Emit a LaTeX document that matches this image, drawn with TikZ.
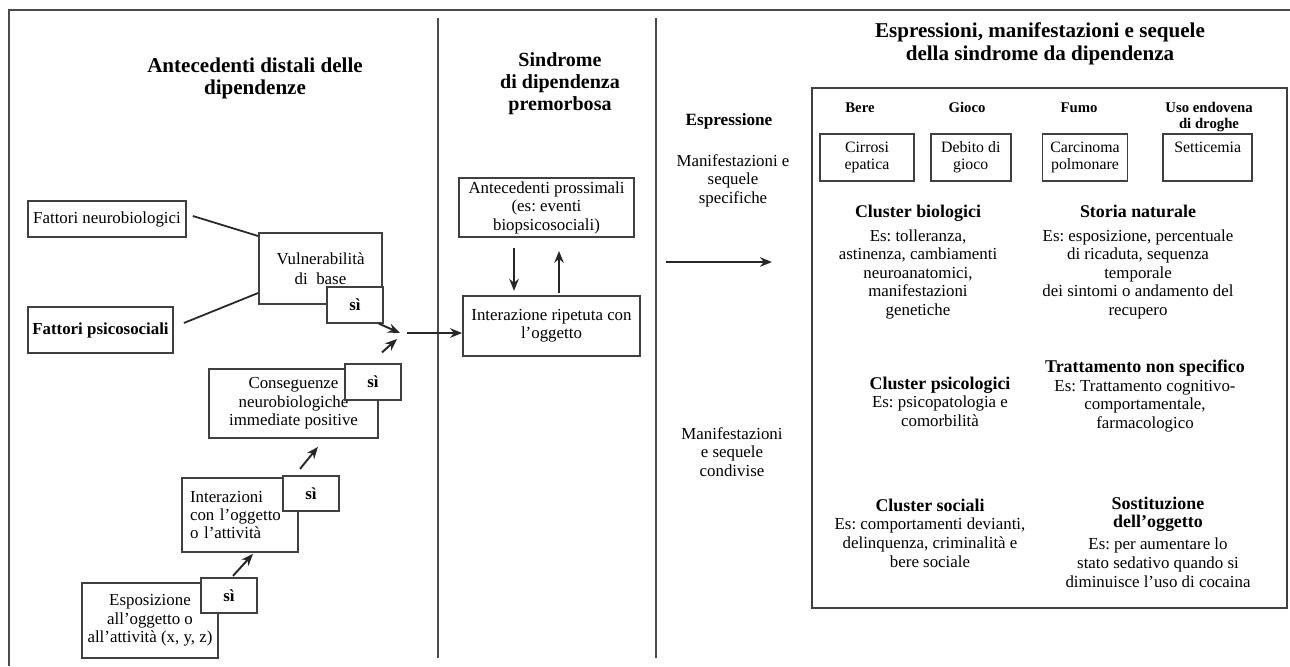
\documentclass[tikz,border=0pt]{standalone}
\usepackage{fontspec}
\setmainfont{Liberation Serif}
\usepackage{tikz}
\usetikzlibrary{positioning,arrows.meta}
\frenchspacing

\newcommand{\clhead}[1]{{\fontsize{10.2}{11}\selectfont\bfseries #1}}

\begin{document}
\begin{tikzpicture}[
    x=0.02cm, y=-0.02cm,
    frame/.style={draw=black!70, line width=1pt},
    box/.style={draw=black!75, fill=white, line width=1pt, inner sep=0pt, align=center, font=\fontsize{9.6}{10.5}\selectfont},
    sibox/.style={box, minimum width=1.12cm, minimum height=0.71cm, font=\fontsize{9.6}{10.5}\selectfont\bfseries},
    smallbox/.style={box, minimum height=0.94cm, font=\fontsize{9}{9.8}\selectfont},
    title/.style={align=center, inner sep=0pt, font=\fontsize{12}{12.8}\selectfont\bfseries},
    txt/.style={align=center, inner sep=0pt, font=\fontsize{9.6}{10.6}\selectfont},
    lab/.style={align=center, inner sep=0pt, anchor=north, font=\fontsize{8.4}{9.2}\selectfont\bfseries},
    link/.style={draw=black!85, line width=1pt},
    arr/.style={->, >={Stealth[length=0.24cm, width=0.19cm]}, draw=black!85, line width=1.1pt}
    ]
        \useasboundingbox (0,0) rectangle (1290,666);

        %Frame
        \draw[frame] (1290,10) -- (9,10) -- (9,666);
        \draw[frame] (438,18) -- (438,658);
        \draw[frame] (656,18) -- (656,658);

        %Titles
        \node[title] (tleft) at (255,78.5) {Antecedenti distali delle\\dipendenze};
        \node[title, font=\fontsize{11.4}{12.6}\selectfont\bfseries]
            (tmid) at (560,83.5) {Sindrome\\di dipendenza\\premorbosa};
        \node[title] (tright) at (1040,44) {Espressioni, manifestazioni e sequele\\della sindrome da dipendenza};

        %Nodes
        \node[box, minimum width=3.16cm, minimum height=0.72cm]
            (fneuro) at (107,219) {Fattori neurobiologici};
        \node[box, minimum width=2.9cm, minimum height=0.92cm, font=\fontsize{9.6}{10.5}\selectfont\bfseries]
            (fpsico) at (100.5,330) {Fattori psicosociali};
        \node[box, minimum width=2.46cm, minimum height=1.42cm]
            (vuln) at (320.5,268.5) {Vulnerabilità\\[1pt]di\ \ base};
        \node[sibox] (vsi) at (355,305) {sì};
        \node[box, minimum width=3.38cm, minimum height=1.38cm]
            (cons) at (293.5,403.5) {Conseguenze\\neurobiologiche\\immediate positive};
        \node[sibox] (csi) at (373,382) {sì};
        \node[box, minimum width=2.32cm, minimum height=1.48cm, align=left, text width=2.0cm, inner xsep=0.16cm]
            (inter) at (240,515) {Interazioni\\con l’oggetto\\o l’attività};
        \node[sibox] (isi) at (311,493.5) {sì};
        \node[box, minimum width=2.72cm, minimum height=1.5cm]
            (espo) at (150,620.5) {Esposizione\\all’oggetto o\\all’attività (x, y, z)};
        \node[sibox] (esi) at (229,595.5) {sì};
        \coordinate (hub) at (404,333);

        \node[box, minimum width=3.5cm, minimum height=1.18cm]
            (prox) at (546.5,207.5) {Antecedenti prossimali\\(es: eventi\\biopsicosociali)};
        \node[box, minimum width=3.54cm, minimum height=1.2cm]
            (rip) [below=1.14cm of prox, xshift=0.1cm] {Interazione ripetuta con\\l’oggetto};

        \node[txt, font=\fontsize{9.8}{10.6}\selectfont\bfseries] (espr) at (729,121) {Espressione};
        \node[txt] (mspec) at (733,180.5) {Manifestazioni e\\sequele\\specifiche};
        \node[txt] (mcond) at (732,452) {Manifestazioni\\e sequele\\condivise};
        \coordinate (espA) at (666,262);
        \coordinate (espB) at (772,262);

        \node[box, minimum width=9.5cm, minimum height=10.4cm] (panel) at (1049.5,348) {};
        \node[smallbox, minimum width=1.88cm]
            (cirrosi) at (867,157.5) {Cirrosi\\epatica};
        \node[smallbox, minimum width=1.6cm]
            (debito) [right=0.3cm of cirrosi] {Debito di\\gioco};
        \node[smallbox, minimum width=1.7cm]
            (carcinoma) [right=0.6cm of debito] {Carcinoma\\polmonare};
        \node[smallbox, minimum width=1.78cm]
            (setticemia) [right=0.68cm of carcinoma] {Setticemia\\\phantom{g}};
        \node[lab] (bere) at (860,102) {Bere};
        \node[lab] (gioco) at (967,102) {Gioco};
        \node[lab] (fumo) at (1079,102) {Fumo};
        \node[lab] (uso) at (1209,102) {Uso endovena\\di droghe};

        \node[txt] (bio) at (918,262) {\clhead{Cluster biologici}\\[3pt]Es: tolleranza,\\astinenza, cambiamenti\\neuroanatomici,\\manifestazioni\\genetiche};
        \node[txt] (storia) at (1138,262) {\clhead{Storia naturale}\\[3pt]Es: esposizione, percentuale\\di ricaduta, sequenza\\temporale\\dei sintomi o andamento del\\recupero};
        \node[txt] (psico) at (940,401.5) {\clhead{Cluster psicologici}\\Es: psicopatologia e\\comorbilità};
        \node[txt] (tratt) at (1145,396) {\clhead{Trattamento non specifico}\\Es: Trattamento cognitivo-\\comportamentale,\\farmacologico};
        \node[txt] (sociali) at (930,533) {\clhead{Cluster sociali}\\Es: comportamenti devianti,\\delinquenza, criminalità e\\bere sociale};
        \node[txt] (sostit) at (1158,542) {\clhead{Sostituzione}\\\clhead{dell’oggetto}\\[2pt]Es: per aumentare lo\\stato sedativo quando si\\diminuisce l’uso di cocaina};

        %Lines
        \draw[link] ([xshift=0.12cm, yshift=0.06cm]fneuro.east) -- ([yshift=0.65cm]vuln.west);
        \draw[link] ([xshift=0.2cm, yshift=0.14cm]fpsico.east) -- ([yshift=-0.49cm]vuln.west);
        \draw[arr] ([xshift=-0.1cm]vsi.south east) -- ([xshift=-0.08cm]hub);
        \draw[arr] ([xshift=0.18cm, yshift=0.22cm]csi.north) -- ([xshift=-0.14cm, yshift=-0.12cm]hub);
        \draw[arr] ([xshift=0.06cm]hub) -- (hub -| rip.west);
        \draw[arr] ([xshift=-0.22cm, yshift=0.12cm]isi.north) -- ([xshift=0.49cm, yshift=-0.16cm]cons.south);
        \draw[arr] ([xshift=0.08cm, yshift=0.02cm]esi.north) -- ([xshift=0.26cm, yshift=-0.02cm]inter.south);
        \draw[arr] ([xshift=-0.65cm, yshift=-0.2cm]prox.south) -- ([xshift=-0.75cm, yshift=0.08cm]rip.north);
        \draw[arr] ([xshift=0.15cm, yshift=0.04cm]rip.north) -- ([xshift=0.25cm, yshift=-0.26cm]prox.south);
        \draw[arr] (espA) -- (espB);
    \end{tikzpicture}
\end{document}
